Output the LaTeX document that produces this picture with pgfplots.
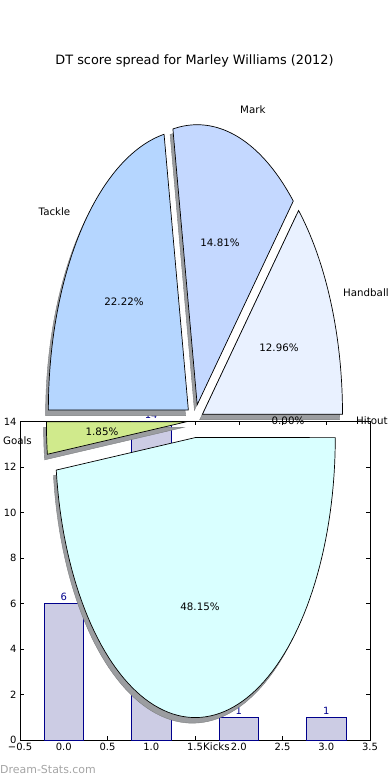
\documentclass[border=0pt]{standalone}
\usepackage{fontspec}
\setmainfont{DejaVu Sans}
\usepackage{pgfplots}
\pgfplotsset{compat=1.18}

\definecolor{barfill}{RGB}{204,204,228}
\definecolor{baredge}{RGB}{0,0,140}
\definecolor{ckicks}{RGB}{217,255,255}
\definecolor{chand}{RGB}{233,241,255}
\definecolor{cmark}{RGB}{196,216,255}
\definecolor{ctackle}{RGB}{181,214,255}
\definecolor{cgoals}{RGB}{208,234,140}
\definecolor{cshadow}{RGB}{155,157,160}
\definecolor{wmark}{RGB}{165,165,165}

% pie geometry (picture pixels, y downwards)
\def\pietot{54}
\def\picx{194.8}
\def\picy{420.8}
\def\pierx{140}
\def\piery{280}
\def\piee{0.06}

\newcommand\pieshadow[2]{%
 \pgfmathsetmacro\aone{360/\pietot*#1}%
 \pgfmathsetmacro\atwo{360/\pietot*#2}%
 \pgfmathsetmacro\amid{(\aone+\atwo)/2}%
 \pgfmathsetmacro\ax{\picx+\piee*\pierx*cos(\amid)-2.8}%
 \pgfmathsetmacro\ay{\picy-\piee*\piery*sin(\amid)+5.6}%
 \edef\doit{\noexpand\addplot[fill=cshadow, draw=cshadow!80!black, line width=0.4bp, domain=\aone:\atwo, samples=90, forget plot] ({\ax+\pierx*cos(x)},{\ay-\piery*sin(x)}) -- (axis cs:\ax,\ay) -- cycle;}%
 \doit}
\newcommand\pieslice[3]{%
 \pgfmathsetmacro\aone{360/\pietot*#1}%
 \pgfmathsetmacro\atwo{360/\pietot*#2}%
 \pgfmathsetmacro\amid{(\aone+\atwo)/2}%
 \pgfmathsetmacro\ax{\picx+\piee*\pierx*cos(\amid)}%
 \pgfmathsetmacro\ay{\picy-\piee*\piery*sin(\amid)}%
 \edef\doit{\noexpand\addplot[fill=#3, draw=black, line width=0.7bp, line join=miter, domain=\aone:\atwo, samples=90, forget plot] ({\ax+\pierx*cos(x)},{\ay-\piery*sin(x)}) -- (axis cs:\ax,\ay) -- cycle;}%
 \doit}

\begin{document}
\begin{tikzpicture}
\path[use as bounding box] (0bp,0bp) rectangle (390bp,780bp);

% ---------------- bar chart ----------------
\begin{axis}[
  at={(20bp,40bp)}, anchor=south west,
  width=350bp, height=318.5bp, scale only axis,
  xmin=-0.5, xmax=3.5, ymin=0, ymax=14,
  xtick={-0.5,0,0.5,1,1.5,2,2.5,3,3.5},
  xticklabels={−0.5,0.0,0.5,1.0,1.5,2.0,2.5,3.0,3.5},
  ytick={0,2,4,6,8,10,12,14},
  /pgf/number format/assume math mode=true,
  tick align=inside, major tick length=4bp,
  tick style={black, line width=0.5bp},
  ticklabel style={font=\fontsize{10}{12}\selectfont},
  axis line style={line width=0.8bp},
  clip=false,
]
\addplot[ybar, bar width=0.45, fill=barfill, draw=baredge, line width=0.8bp,
  nodes near coords,
  every node near coord/.append style={font=\fontsize{10}{12}\selectfont, text=baredge, inner sep=2.5bp}]
  coordinates {(0,6) (1,14) (2,1) (3,1)};
\end{axis}

% ---------------- pie chart ----------------
\begin{axis}[
  at={(0bp,0bp)}, anchor=south west,
  width=390bp, height=780bp, scale only axis,
  xmin=0, xmax=390, ymin=0, ymax=780, y dir=reverse,
  hide axis, clip=false,
]
% order: Handball 7, Mark 8, Tackle 12, Goals 1, Kicks 26, Hitout 0
\pieshadow{0}{7}
\pieshadow{7}{15}
\pieshadow{15}{27}
\pieshadow{27}{28}
\pieshadow{28}{54}
\pieslice{0}{7}{chand}
\pieslice{7}{15}{cmark}
\pieslice{15}{27}{ctackle}
\pieslice{27}{28}{cgoals}
\pieslice{28}{54}{ckicks}

\begin{scope}[every node/.style={inner sep=0pt, font=\fontsize{10.3}{12}\selectfont}]
\node[anchor=west] at (axis cs:240,110) {Mark};
\node[anchor=east] at (axis cs:70.5,212) {Tackle};
\node[anchor=west] at (axis cs:343,293) {Handball};
\node[anchor=east] at (axis cs:32,441) {Goals};
\node[anchor=west] at (axis cs:356,421) {Hitout};
\node[anchor=west] at (axis cs:203,747) {Kicks};
\node at (axis cs:220,243) {14.81\%};
\node at (axis cs:124,302) {22.22\%};
\node at (axis cs:279,348) {12.96\%};
\node at (axis cs:102,431.5) {1.85\%};
\node at (axis cs:288,421) {0.00\%};
\node at (axis cs:200,607) {48.15\%};
\end{scope}
\end{axis}

\node[inner sep=0pt, font=\fontsize{12.9}{15}\selectfont] at (194.5bp,719bp) {DT score spread for Marley Williams (2012)};
\node[inner sep=0pt, anchor=west, text=wmark, font=\fontsize{11}{13}\selectfont] at (0bp,10bp) {Dream-Stats.com};
\end{tikzpicture}
\end{document}
